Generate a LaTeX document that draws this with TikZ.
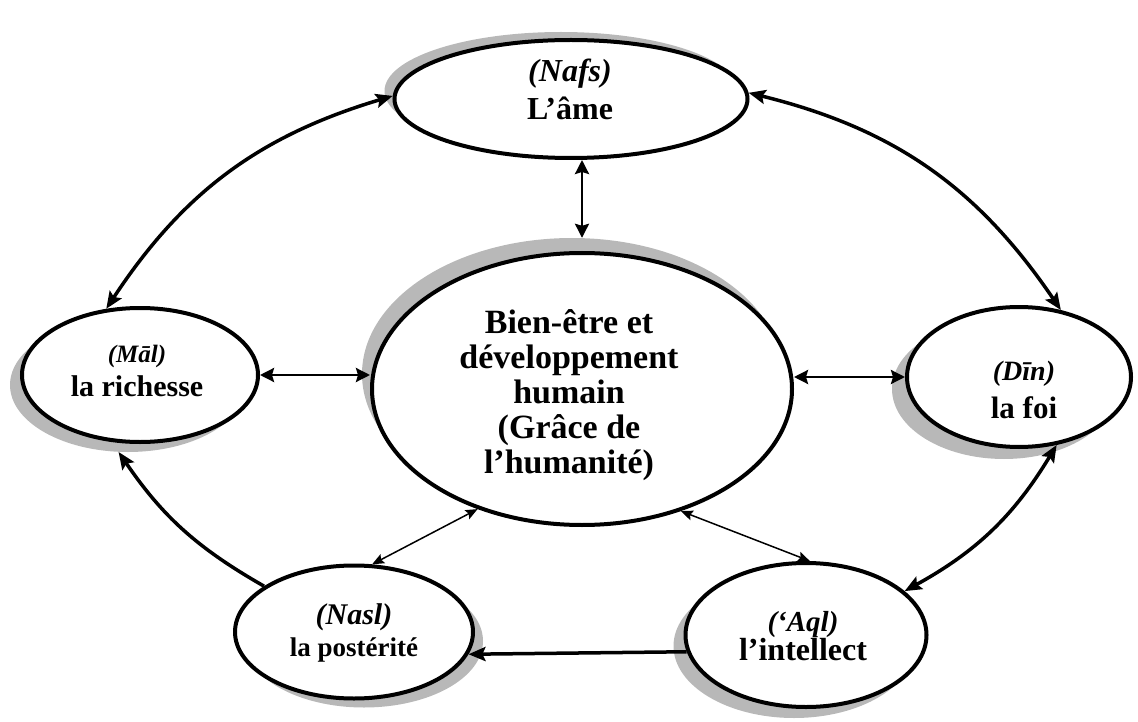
\documentclass[tikz,border=0pt]{standalone}
\usepackage{fontspec}
\setmainfont{Liberation Serif}
\usetikzlibrary{arrows.meta,shapes.geometric}
\begin{document}
\begin{tikzpicture}[x=1pt,y=1pt,
  ell/.style={ellipse,draw=black,line width=4pt,fill=white,inner sep=0pt},
  shd/.style={ellipse,fill=black!28,inner sep=0pt},
  lbl/.style={align=center,inner sep=0pt},
  arrbig/.style={line width=3.5pt,{Stealth[length=17pt,width=14pt,inset=3pt]}-{Stealth[length=17pt,width=14pt,inset=3pt]}},
  arrone/.style={line width=3.5pt,-{Stealth[length=17pt,width=14pt,inset=3pt]}},
  arrmid/.style={line width=2.6pt,{Stealth[length=14pt,width=14pt,inset=2pt]}-{Stealth[length=14pt,width=14pt,inset=2pt]}},
  arrsm/.style={line width=1.5pt,{Stealth[length=12pt,width=10pt,inset=2pt]}-{Stealth[length=12pt,width=10pt,inset=2pt]}}
]
\useasboundingbox (0,0) rectangle (1138,-722);

% shadows
\node[shd,minimum width=353pt,minimum height=118pt] (nafssh) at (561,-91) {};
\node[shd,minimum width=420pt,minimum height=272pt] (centersh) at (572,-374) {};
\node[shd,minimum width=236pt,minimum height=134pt] (malsh) at (128,-385) {};
\node[shd,minimum width=224pt,minimum height=140pt] (dinsh) at (1004,-389) {};
\node[shd,minimum width=238pt,minimum height=133pt] (naslsh) at (364,-641) {};
\node[shd,minimum width=241pt,minimum height=144pt] (aqlsh) at (794,-646) {};

% ellipses
\node[ell,minimum width=353pt,minimum height=118pt] (nafs) at (571,-99) {};
\node[ell,minimum width=420pt,minimum height=272pt] (center) at (582,-389) {};
\node[ell,minimum width=236pt,minimum height=134pt] (mal) at (140,-375) {};
\node[ell,minimum width=224pt,minimum height=140pt] (din) at (1019,-377) {};
\node[ell,minimum width=238pt,minimum height=133pt] (nasl) at (354,-632) {};
\node[ell,minimum width=241pt,minimum height=144pt] (aql) at (806,-635) {};

% texts
\node[lbl,font=\fontsize{32}{38}\selectfont\bfseries] (nafst) at (570,-89)
  {{\itshape (Nafs)}\\L’âme};
\node[lbl,font=\fontsize{34}{35}\selectfont\bfseries] (centert) at (569,-395)
  {Bien-être et\\développement\\humain\\(Grâce de\\l’humanité)};
\node[lbl,font=\fontsize{30}{34}\selectfont\bfseries] (malt) at (137,-371)
  {{\fontsize{25}{34}\selectfont\itshape (Māl)}\\la richesse};
\node[lbl,font=\fontsize{31}{38}\selectfont\bfseries] (dint) at (1024,-390)
  {{\fontsize{28}{38}\selectfont\itshape (Dīn)}\\la foi};
\node[lbl,font=\fontsize{27}{32}\selectfont\bfseries] (naslt) at (354,-633)
  {{\fontsize{30}{32}\selectfont\itshape (Nasl)}\\la postérité};
\node[lbl,font=\fontsize{32}{29}\selectfont\bfseries] (aqlt) at (803,-636)
  {{\fontsize{29}{29}\selectfont\itshape (‘Aql)}\\l’intellect};

% outer connectors
\draw[arrbig] (mal.117) to[bend left=20] (nafs.179);
\draw[arrbig] (nafs.2) to[bend left=21] (din.58);
\draw[arrbig] (din.299) to[bend left=15] (aql.24);
\draw[arrone] (nasl.153) to[bend left=13] (malsh.262);
\draw[arrone] (aql.188) -- (nasl.349);

% spokes
\draw[arrmid] (nafs.south -| center.north) -- (centersh.north -| center.north);
\draw[arrmid] (mal.east) -- (mal.east -| center.west);
\draw[arrmid] (center.east |- din.west) -- (din.west);
\draw[arrsm] (nasl.75) -- (center.229);
\draw[arrsm] (center.309) -- (aql.87);
\end{tikzpicture}
\end{document}
